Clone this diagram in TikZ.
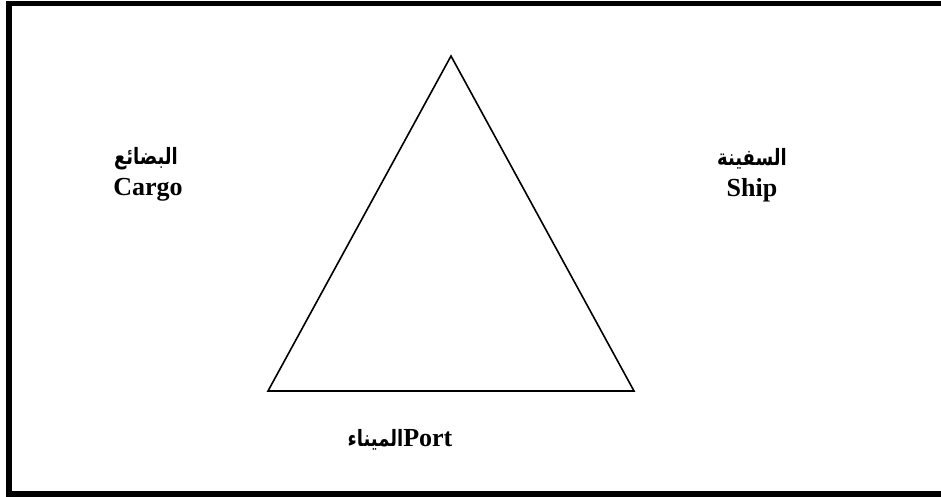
\documentclass[tikz,border=0pt]{standalone}
\usepackage{fontspec}
\usepackage{graphicx}
\setmainfont{Liberation Serif}
\newfontfamily\arabicfont[Script=Arabic]{DejaVu Sans}
\TeXXeTstate=1
\newcommand{\artxt}[1]{\scalebox{1}[1.25]{\arabicfont\bfseries\fontsize{18}{18}\selectfont\beginR #1\endR}}
\begin{document}
\begin{tikzpicture}[x=1pt,y=-1pt,
  lbl/.style={font=\bfseries\fontsize{26}{26}\selectfont, inner sep=0pt, anchor=center},
  albl/.style={inner sep=0pt, anchor=center},
  edge/.style={line width=1.6pt, line join=miter}]
\useasboundingbox (0,0) rectangle (941,497);
\clip (0,0) rectangle (941,497);
\draw[line width=5.5pt] (9,3.5) rectangle (948,494);
\coordinate (top) at (451,56);
\coordinate (bl) at (268,391);
\coordinate (br) at (634,391);
\draw[edge] (top) -- (bl) -- (br) -- cycle;
\node[albl] (cargoar) at (146,159) {\artxt{البضائع}};
\node[lbl] (cargo) at (148,190) {Cargo};
\node[albl] (shipar) at (752,159) {\artxt{السفينة}};
\node[lbl] (ship) at (752,190) {Ship};
\node[lbl] (port) at (400,440) {\artxt{الميناء}Port};
\end{tikzpicture}
\end{document}
